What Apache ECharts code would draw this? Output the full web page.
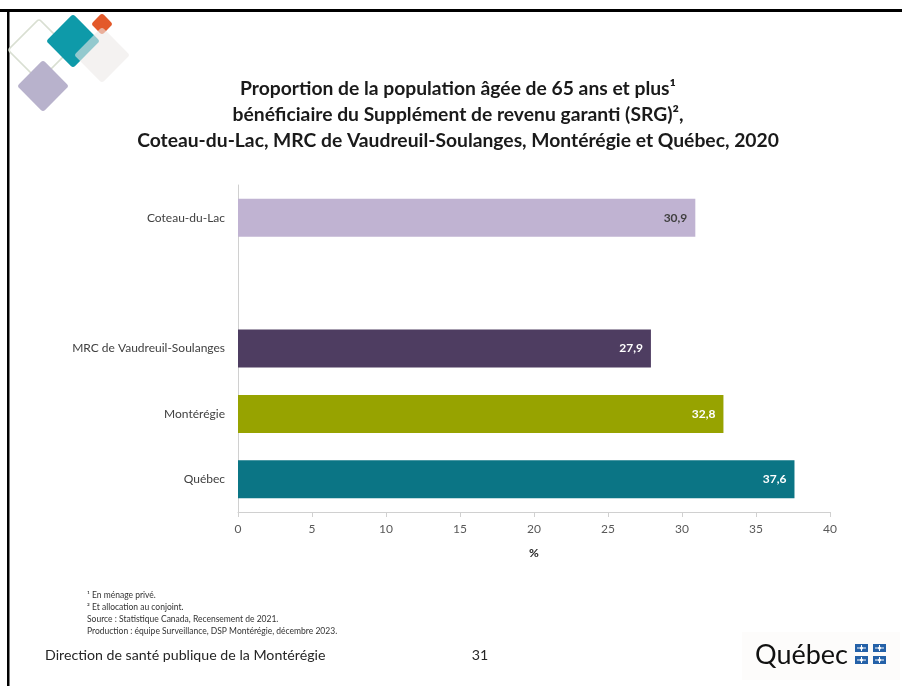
<!DOCTYPE html>
<html>
<head>
<meta charset="utf-8">
<script src="https://cdn.jsdelivr.net/npm/echarts@6/dist/echarts.min.js"></script>
<style>
  html, body { margin: 0; padding: 0; background: #fff; }
  #chart { width: 902px; height: 686px; }
</style>
</head>
<body>
<div id="chart"></div>
<script>
// données
const categories = ['Coteau-du-Lac', '', 'MRC de Vaudreuil-Soulanges', 'Montérégie', 'Québec'];
const values = [30.9, null, 27.9, 32.8, 37.6];
const barColors = ['#C0B3D2', null, '#4E3D61', '#97A300', '#0B7585'];
const labelColors = ['#3F3F3F', null, '#FFFFFF', '#FFFFFF', '#FFFFFF'];
const titleLines = [
  'Proportion de la population âgée de 65 ans et plus¹',
  'bénéficiaire du Supplément de revenu garanti (SRG)²,',
  'Coteau-du-Lac, MRC de Vaudreuil-Soulanges, Montérégie et Québec, 2020'
];
const notes = [
  '¹ En ménage privé.',
  '² Et allocation au conjoint.',
  'Source : Statistique Canada, Recensement de 2021.',
  'Production : équipe Surveillance, DSP Montérégie, décembre 2023.'
];

const FONT = 'Lato, "Noto Sans", sans-serif';
const chart = echarts.init(document.getElementById('chart'));

// losanges décoratifs en haut à gauche
const diamond = (cx, cy, half, style, z) => {
  const s = half * Math.SQRT2;
  return {
    type: 'rect', x: cx, y: cy, rotation: Math.PI / 4, z: z,
    shape: { x: -s / 2, y: -s / 2, width: s, height: s, r: 3 },
    style: style
  };
};

// drapeaux du logo
const flag = (x, y) => ({
  type: 'group', x: x, y: y,
  children: [
    { type: 'rect', shape: { x: 0, y: 0, width: 13, height: 8 }, style: { fill: '#2461A8' } },
    { type: 'rect', shape: { x: 6, y: 1, width: 1, height: 6 }, style: { fill: '#fff' } },
    { type: 'rect', shape: { x: 2, y: 3.5, width: 9, height: 1 }, style: { fill: '#fff' } },
    { type: 'circle', shape: { cx: 6.5, cy: 4, r: 1.5 }, style: { fill: '#fff' } }
  ]
});

const graphics = [
  // cadre
  { type: 'rect', shape: { x: 0, y: 9, width: 902, height: 3 }, style: { fill: '#000' } },
  { type: 'rect', shape: { x: 7, y: 9, width: 2.5, height: 677 }, style: { fill: '#000' } },
  diamond(39, 50, 31, { fill: 'none', stroke: '#D9DFD2', lineWidth: 1.5 }, 1),
  diamond(43, 86, 26, { fill: '#B8B2CC' }, 2),
  diamond(73, 41, 27, { fill: '#0E9AA9' }, 2),
  diamond(102, 24, 11, { fill: '#E3592A' }, 2),
  diamond(102, 55, 28, { fill: 'rgba(236,234,231,0.6)' }, 3),
  // titre
  {
    type: 'text', x: 458, y: 76, z: 5,
    style: {
      text: titleLines.join('\n'), font: 'bold 19.3px ' + FONT, fill: '#1a1a1a',
      textAlign: 'center', lineHeight: 26
    }
  },
  // notes
  {
    type: 'text', x: 87, y: 589, z: 5,
    style: { text: notes.join('\n'), font: '8.5px ' + FONT, fill: '#333', lineHeight: 12 }
  },
  // pied de page
  {
    type: 'text', x: 45, y: 648, z: 5,
    style: { text: 'Direction de santé publique de la Montérégie', font: '14.2px ' + FONT, fill: '#262626' }
  },
  {
    type: 'text', x: 480, y: 648, z: 5,
    style: { text: '31', font: '14.2px ' + FONT, fill: '#262626', textAlign: 'center' }
  },
  // logo Québec
  { type: 'rect', shape: { x: 742, y: 632, width: 158, height: 48 }, style: { fill: '#FDFCFB' } },
  {
    type: 'text', x: 755, y: 642, z: 5,
    style: { text: 'Québec', font: '27px ' + FONT, fill: '#111' }
  },
  flag(855, 644), flag(873, 644), flag(855, 656), flag(873, 656)
];

const option = {
  animation: false,
  textStyle: { fontFamily: FONT },
  grid: { left: 238, right: 72, top: 185, bottom: 174, containLabel: false },
  xAxis: {
    type: 'value', min: 0, max: 40, interval: 5,
    name: '%', nameLocation: 'middle', nameGap: 35,
    nameTextStyle: { fontWeight: 'bold', fontSize: 12, color: '#262626', fontFamily: FONT },
    axisLine: { show: true, lineStyle: { color: '#D0D0D0' } },
    axisTick: { show: true, length: 5, lineStyle: { color: '#D0D0D0' } },
    axisLabel: { color: '#595959', fontSize: 12, margin: 11, fontFamily: FONT },
    splitLine: { show: false }
  },
  yAxis: {
    type: 'category', inverse: true, data: categories,
    axisLine: { show: true, lineStyle: { color: '#D0D0D0' } },
    axisTick: { show: false },
    axisLabel: { color: '#404040', fontSize: 12, margin: 13, fontFamily: FONT }
  },
  series: [{
    type: 'bar',
    barWidth: 38,
    data: values.map((v, i) => v === null ? null : {
      value: v,
      itemStyle: { color: barColors[i] },
      label: { color: labelColors[i] }
    }),
    label: {
      show: true, position: 'insideRight', distance: 8,
      fontWeight: 'bold', fontSize: 12, fontFamily: FONT,
      formatter: p => p.value.toFixed(1).replace('.', ',')
    }
  }],
  graphic: graphics
};

chart.setOption(option);
</script>
</body>
</html>
